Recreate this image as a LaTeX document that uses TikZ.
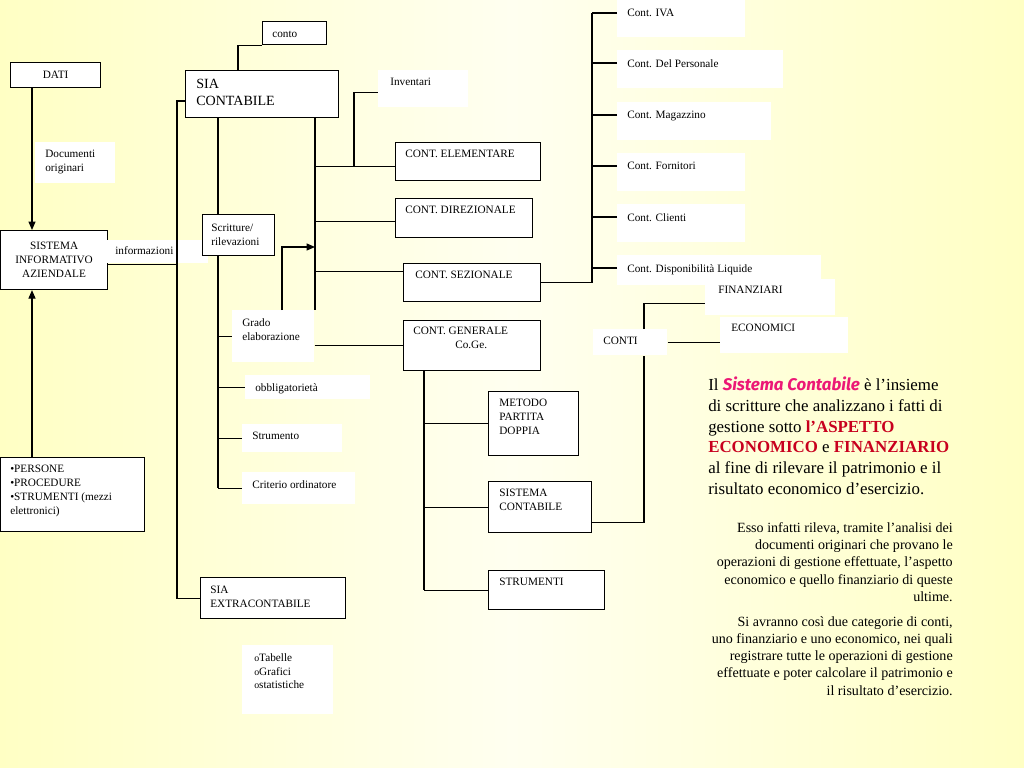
\documentclass[tikz,border=0pt]{standalone}
\usepackage{fontspec}
\setmainfont{Liberation Serif}
\newfontfamily\comicsf{Fira Sans}
\usepackage{tikz}
\usetikzlibrary{arrows.meta,positioning,calc}
\definecolor{bgyellow}{RGB}{255,255,196}
\definecolor{bgpale}{RGB}{255,255,240}
\definecolor{pinkcs}{RGB}{236,24,118}
\definecolor{darkred}{RGB}{200,0,30}

\begin{document}
\begin{tikzpicture}[x=0.025cm,y=-0.025cm,
  box/.style={draw,fill=white,line width=0.8pt,anchor=north west,inner sep=0pt},
  wbox/.style={fill=white,anchor=north west,inner sep=0pt},
  smallfont/.style={font=\fontsize{8}{9.9}\selectfont},
  txt/.style={anchor=north west,align=left,inner xsep=0.25cm,inner ysep=0.2cm,smallfont},
  bigtxt/.style={txt,inner xsep=0.275cm,inner ysep=0.23cm,font=\fontsize{10}{12}\selectfont},
  conn/.style={line width=0.8pt},
  arr/.style={conn,-{Triangle[length=6pt,width=5pt]}}]
% Slide background
\useasboundingbox (0,0) rectangle (1024,768);
\shade[left color=bgyellow,right color=bgyellow,middle color=bgpale] (0,0) rectangle (1024,768);
% Sistema informativo aziendale
\node[box,minimum width=2.25cm,minimum height=0.625cm,smallfont] (dati) at (10,62) {DATI};
\node[wbox,minimum width=2cm,minimum height=1.025cm,
  label={[txt]north west:Documenti\\originari}] (doc) at (35,142) {};
\node[box,minimum width=2.675cm,minimum height=1.475cm,align=center,smallfont] (siaz) at (0,230)
  {SISTEMA\\INFORMATIVO\\AZIENDALE};
\node[box,minimum width=3.6cm,minimum height=1.85cm,
  label={[txt]north west:•PERSONE\\•PROCEDURE\\•STRUMENTI (mezzi\\elettronici)}] (pers) at (0,457) {};
\node[wbox,minimum width=2.525cm,minimum height=0.575cm,
  label={[txt,inner xsep=0.2cm,inner ysep=0.15cm]north west:informazioni}] (info) at (107,240) {};
% SIA contabile and its branches
\node[box,minimum width=3.825cm,minimum height=1.175cm,
  label={[bigtxt]north west:SIA\\CONTABILE}] (siac) at (185,70) {};
\node[box,minimum width=1.6cm,minimum height=0.575cm,
  label={[txt,inner ysep=0.25cm]north west:conto}] (conto) at (262,21) {};
\node[box,minimum width=1.8cm,minimum height=1.025cm,
  label={[txt,inner xsep=0.225cm,inner ysep=0.25cm]north west:Scritture/\\rilevazioni}] (scr) at (202,214) {};
\node[wbox,minimum width=2.05cm,minimum height=1.3cm,
  label={[txt]north west:Grado\\elaborazione}] (grado) at (232,310) {};
\node[wbox,minimum width=3.125cm,minimum height=0.6cm,
  label={[txt]north west:obbligatorietà}] (obbl) at (245,375) {};
\node[wbox,minimum width=2.5cm,minimum height=0.7cm,
  label={[txt]north west:Strumento}] (strum) at (242,424) {};
\node[wbox,minimum width=2.825cm,minimum height=0.8cm,
  label={[txt]north west:Criterio ordinatore}] (crit) at (242,472) {};
\node[box,minimum width=3.625cm,minimum height=1.025cm,
  label={[txt,inner ysep=0.23cm]north west:SIA\\EXTRACONTABILE}] (siae) at (200,577) {};
\node[wbox,minimum width=2.275cm,minimum height=1.725cm,
  label={[txt,inner xsep=0.3cm]north west:{\fontsize{7}{7}\selectfont o}Tabelle\\
    {\fontsize{7}{7}\selectfont o}Grafici\\{\fontsize{7}{7}\selectfont o}statistiche}] (tab) at (242,645) {};
\node[wbox,minimum width=2.25cm,minimum height=0.925cm,
  label={[txt,inner xsep=0.3cm]north west:Inventari}] (inv) at (378,70) {};
% Contabilita'
\node[box,minimum width=3.625cm,minimum height=0.95cm,
  label={[txt]north west:CONT. ELEMENTARE}] (elem) at (395,142) {};
\node[box,minimum width=3.425cm,minimum height=0.975cm,
  label={[txt]north west:CONT. DIREZIONALE}] (dir) at (395,198) {};
\node[box,minimum width=3.425cm,minimum height=0.95cm,
  label={[txt,inner xsep=0.3cm]north west:CONT. SEZIONALE}] (sez) at (403,263) {};
\node[box,minimum width=3.425cm,minimum height=1.25cm,
  label={[txt,inner ysep=0.18cm]north west:CONT. GENERALE\\\hspace*{1.05cm}Co.Ge.}] (gen) at (403,320) {};
\node[box,minimum width=2.25cm,minimum height=1.6cm,
  label={[txt,inner xsep=0.275cm]north west:METODO\\PARTITA\\DOPPIA}] (met) at (488,391) {};
\node[box,minimum width=2.575cm,minimum height=1.275cm,
  label={[txt,inner xsep=0.275cm]north west:SISTEMA\\CONTABILE}] (sisc) at (488,481) {};
\node[box,minimum width=2.9cm,minimum height=0.975cm,
  label={[txt,inner xsep=0.275cm]north west:STRUMENTI}] (strm) at (488,570) {};
% Contabilita' sezionali
\foreach \n/\y/\w/\h/\t in {iva/0/3.2/0.925/Cont. IVA,pers2/50/4.15/0.95/Cont. Del Personale,
    mag/102/3.85/0.95/Cont. Magazzino,forn/153/3.2/0.95/Cont. Fornitori,
    cli/204/3.2/0.95/Cont. Clienti,disp/255/5.1/0.75/Cont. Disponibilità Liquide}
  \node[wbox,minimum width=\w cm,minimum height=\h cm,
    label={[txt,inner ysep=0.225cm]north west:\t}] (\n) at (617,\y) {};
% Conti
\node[wbox,minimum width=3.25cm,minimum height=0.9cm,
  label={[txt,inner xsep=0.325cm,inner ysep=0.18cm]north west:FINANZIARI}] (fin) at (705,279) {};
\node[wbox,minimum width=3.2cm,minimum height=0.9cm,
  label={[txt,inner xsep=0.275cm,inner ysep=0.18cm]north west:ECONOMICI}] (eco) at (720,317) {};
\node[wbox,minimum width=1.85cm,minimum height=0.65cm,
  label={[txt]north west:CONTI}] (conti) at (593,329) {};
% Connectors
\coordinate (inx) at (32,0);
\draw[arr] (dati.south -| inx) -- (siaz.north -| inx);
\draw[arr] (pers.north -| inx) -- (siaz.south -| inx);
\coordinate (trA) at (177,101);
\draw[conn] ($(siaz.east)+(0,4)$) -| (trA) -- (siac.west |- trA);
\draw[conn] (trA) |- (siae.west);
\coordinate (cx) at (238,0);
\draw[conn] (siac.north -| cx) |- (conto.south west);
\coordinate (trC) at (218,0);
\draw[conn] (siac.south -| trC) -- (scr.north -| trC);
\draw[conn] (scr.south -| trC) -- (trC |- crit.west);
\foreach \n in {grado,obbl,strum,crit}
  \draw[conn] (trC |- \n.west) -- (\n.west);
\coordinate (trD) at (315,0);
\draw[conn] (siac.south -| trD) -- (trD |- grado.north);
\foreach \n/\dy in {elem/5,dir/3,sez/-11}{
  \coordinate (in\n) at ($(\n.west)+(0,\dy)$);
  \draw[conn] (in\n) -- (in\n -| trD);
}
\draw[conn] (grado.east |- gen.west) -- (gen.west);
\coordinate (gx) at (282,247);
\draw[arr] (grado.north -| gx) |- (gx -| trD);
\coordinate (invx) at (354,0);
\draw[conn] (inelem -| invx) |- ($(inv.west)+(0,4)$);
\coordinate (trE) at (424,0);
\draw[conn] (gen.south -| trE) -- (trE |- strm.west);
\foreach \n in {met,sisc,strm}
  \draw[conn] (trE |- \n.west) -- (\n.west);
\coordinate (trF) at (592,13);
\draw[conn] (sez.east) -| (trF);
\foreach \n in {iva,pers2,mag,forn,cli,disp}
  \draw[conn] ($(\n.north west)+(0,13)$) -- +(-25,0);
\coordinate (trG) at (644,0);
\draw[conn] ($(sisc.south east)+(0,-11)$) -| (trG |- conti.south);
\draw[conn] (trG |- conti.north) |- ($(fin.south west)+(0,-12)$);
\draw[conn] (conti.east) -- (conti.east -| eco.west);
% Descrizione
\node[anchor=north west,align=left,inner sep=0pt,font=\fontsize{12}{14.7}\selectfont] (def) at (708,377)
  {Il {\comicsf\bfseries\itshape\color{pinkcs}Sistema Contabile} è l’insieme\\
   di scritture che analizzano i fatti di\\
   gestione sotto {\bfseries\color{darkred}l’ASPETTO}\\
   {\bfseries\color{darkred}ECONOMICO} e {\bfseries\color{darkred}FINANZIARIO}\\
   al fine di rilevare il patrimonio e il\\
   risultato economico d’esercizio.};
\node[anchor=north east,align=right,inner sep=0pt,font=\fontsize{10}{12.3}\selectfont] (expl) at (953,522)
  {Esso infatti rileva, tramite l’analisi dei\\
   documenti originari che provano le\\
   operazioni di gestione effettuate, l’aspetto\\
   economico e quello finanziario di queste\\
   ultime.};
\node[anchor=north east,align=right,inner sep=0pt,font=\fontsize{10}{12.3}\selectfont] (cat) at (953,616)
  {Si avranno così due categorie di conti,\\
   uno finanziario e uno economico, nei quali\\
   registrare tutte le operazioni di gestione\\
   effettuate e poter calcolare il patrimonio e\\
   il risultato d’esercizio.};
\end{tikzpicture}
\end{document}
